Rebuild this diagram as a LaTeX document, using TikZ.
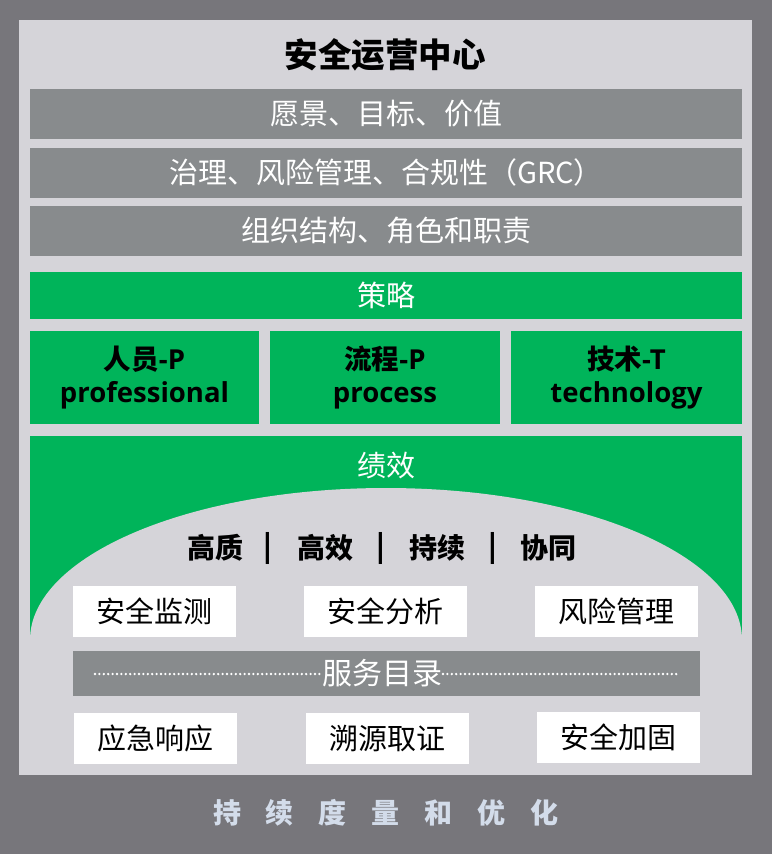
\documentclass[tikz,border=0pt]{standalone}
\usepackage{fontspec}
\setmainfont{Noto Sans CJK SC}
\newfontfamily\latb{Open Sans}
\definecolor{bgdark}{HTML}{77767B}
\definecolor{panelc}{HTML}{D5D4D9}
\definecolor{barc}{HTML}{888B8D}
\definecolor{grn}{HTML}{00B45A}
\definecolor{btxt}{HTML}{D3DCEA}
\tikzset{
  box/.style={inner sep=0pt, outer sep=0pt, anchor=center, align=center},
  txt/.style={font=\fontsize{29}{34}\selectfont},
  graybar/.style={box, txt, fill=barc, text=white, minimum width=712pt, minimum height=50pt},
  greenbar/.style={box, txt, fill=grn, text=white},
  pillar/.style={box, fill=grn, text=black, minimum height=93pt, font=\bfseries\fontsize{27.5}{33}\selectfont},
  whitebox/.style={box, txt, fill=white, text=black, minimum width=163pt, minimum height=51pt},
  quality/.style={box, text=black, font=\bfseries\fontsize{28}{32}\selectfont},
  dotline/.style={white, line width=2.6pt, line cap=round, dash pattern=on 0pt off 4.4pt}
}
\begin{document}
\begin{tikzpicture}[x=1pt,y=-1pt]
\useasboundingbox (0,0) rectangle (772,854);
\fill[bgdark] (0,0) rectangle (772,854);
\fill[panelc] (19,20) rectangle (752,775);
\node[box, font=\bfseries\fontsize{33.5}{38}\selectfont] (title) at (385,55) {安全运营中心};
\node[graybar] (vision) at (386,114) {愿景、目标、价值};
\node[graybar] (grc) at (386,172.5) {治理、风险管理、合规性（GRC）};
\node[graybar] (org) at (386,231) {组织结构、角色和职责};
\node[greenbar, minimum width=712pt, minimum height=47pt] (strategy) at (386,295.5) {策略};
\node[pillar, minimum width=229pt] (people) at (144.5,377.5) {人员{\latb\bfseries -P}\\{\latb\bfseries professional}};
\node[pillar, minimum width=230pt] (process) at (385,377.5) {流程{\latb\bfseries -P}\\{\latb\bfseries process}};
\node[pillar, minimum width=231pt] (tech) at (626.5,377.5) {技术{\latb\bfseries -T}\\{\latb\bfseries technology}};
\fill[grn] (30,436) rectangle (742,640);
\begin{scope}
  \clip (30,436) rectangle (742,640);
  \fill[panelc] (386,640) ellipse [x radius=356pt, y radius=152pt];
\end{scope}
\node[box, txt, text=white] (perf) at (386,466) {绩效};
\node[quality] (q1) at (215,548) {高质};
\node[quality] (p1) at (268,548) {|};
\node[quality] (q2) at (325,548) {高效};
\node[quality] (p2) at (381,548) {|};
\node[quality] (q3) at (437,548) {持续};
\node[quality] (p3) at (493,548) {|};
\node[quality] (q4) at (548,548) {协同};
\node[whitebox] (mon) at (154.5,611.5) {安全监测};
\node[whitebox] (ana) at (385.5,611.5) {安全分析};
\node[whitebox] (risk) at (616,611) {风险管理};
\node[box, fill=barc, minimum width=627pt, minimum height=45pt] (svc) at (386.5,673.5) {};
\node[box, font=\fontsize{30}{34}\selectfont, text=white, inner xsep=1pt] (svct) at (382,673) {服务目录};
\coordinate (dl) at (95,674);
\coordinate (dr) at (678,674);
\draw[dotline] (dl) -- (svct.west |- dl);
\draw[dotline] (svct.east |- dr) -- (dr);
\node[whitebox] (resp) at (155.5,738) {应急响应};
\node[whitebox] (trace) at (387.5,738) {溯源取证};
\node[whitebox] (harden) at (618,737) {安全加固};
\node[box, text=btxt, font=\bfseries\fontsize{28}{30}\selectfont] (foot) at (386,813)
  {持\hspace{25pt}续\hspace{25pt}度\hspace{25pt}量\hspace{25pt}和\hspace{25pt}优\hspace{25pt}化};
\end{tikzpicture}
\end{document}
